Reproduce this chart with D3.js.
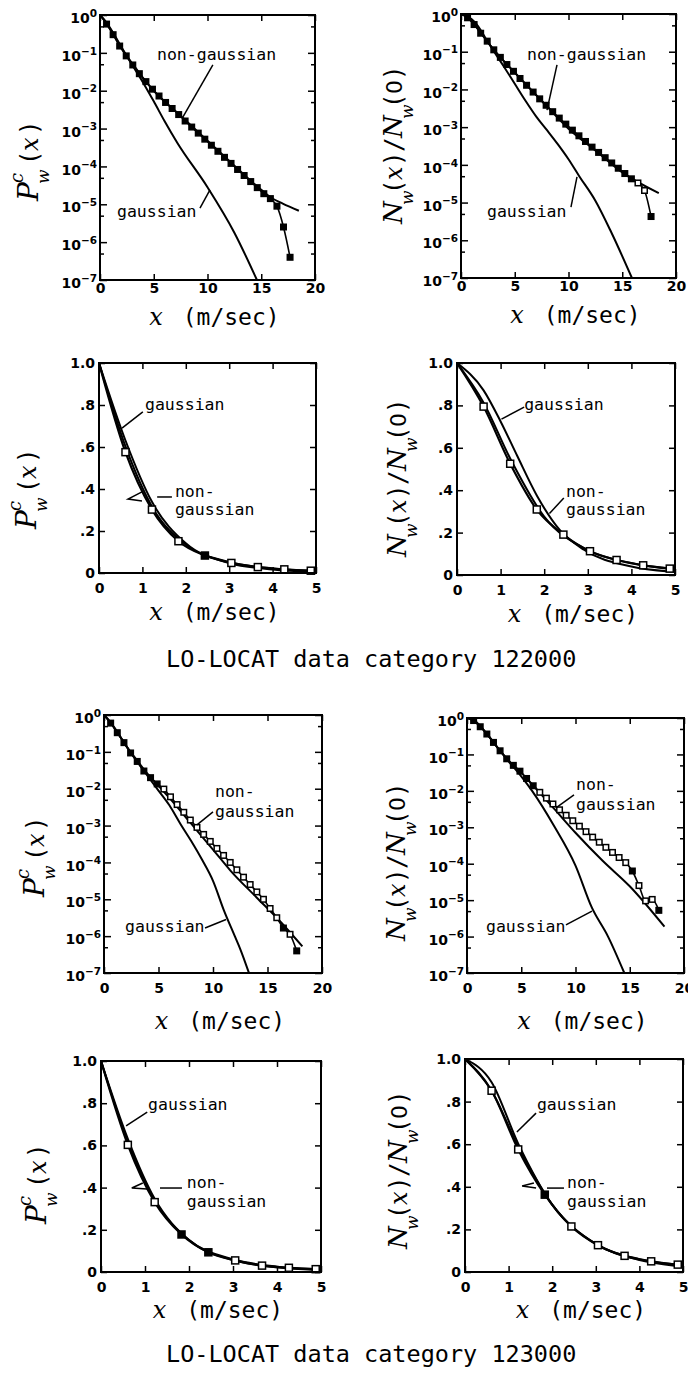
<!DOCTYPE html>
<html>
<head>
<meta charset="utf-8">
<script src="https://cdn.jsdelivr.net/npm/d3@7"></script>
<style>
body { margin: 0; background: #fff; }
svg { display: block; }
.tick text { font-family: "DejaVu Sans"; font-weight: bold; font-size: 14px; fill: #000; }
.tick line { stroke: #000; stroke-width: 1.5px; }
.note { font-family: "DejaVu Sans Mono"; font-size: 16.5px; fill: #000; }
.caption { font-family: "DejaVu Sans Mono"; font-size: 23.5px; fill: #000; }
</style>
</head>
<body>
<svg id="chart" width="688" height="1375"></svg>
<script>
// speeds of the measured points (m/sec), same for every data set
var pointX = [0, 0.61, 1.22, 1.83, 2.44, 3.05, 3.66, 4.27, 4.88, 5.49, 6.10, 6.71, 7.32, 7.92, 8.53,
    9.14, 9.75, 10.36, 10.97, 11.58, 12.19, 12.80, 13.41, 14.02, 14.63, 15.24, 15.85, 16.46, 17.07, 17.68]

// all values below are log10 of the value

// category 122000, P_w^c(x)
var p122Data = [0, -0.24, -0.52, -0.82, -1.08, -1.32, -1.55, -1.76, -1.96, -2.14, -2.31, -2.47, -2.63, -2.80, -2.96,
    -3.12, -3.28, -3.44, -3.60, -3.76, -3.92, -4.08, -4.24, -4.40, -4.56, -4.72, -4.85, -5.05, -5.60, -6.40]
var p122NonX = [0, 0.61, 1.22, 2, 3, 4, 5, 7.5, 10, 12.5, 15, 16, 17, 18.5]
var p122Non = [0, -0.22, -0.50, -0.87, -1.28, -1.66, -2.00, -2.66, -3.32, -3.98, -4.62, -4.84, -4.98, -5.17]
var p122GaussX = [0, 0.61, 1.22, 2, 3, 4, 5, 6, 7.2, 10, 12.5, 14.6]
var p122Gauss = [0, -0.20, -0.47, -0.85, -1.32, -1.78, -2.28, -2.80, -3.38, -4.55, -5.75, -7.0]

// category 122000, N_w(x)/N_w(0)
var n122Data = [0, -0.10, -0.28, -0.51, -0.72, -0.95, -1.15, -1.34, -1.52, -1.71, -1.89, -2.07, -2.25, -2.42, -2.59,
    -2.76, -2.92, -3.08, -3.23, -3.38, -3.53, -3.67, -3.81, -3.95, -4.09, -4.23, -4.37, -4.48, -4.68, -5.37]
var n122NonX = [0, 0.61, 1.22, 2, 3, 4, 5, 7.5, 10, 12.5, 15, 18.4]
var n122Non = [0, -0.09, -0.26, -0.56, -0.93, -1.25, -1.55, -2.30, -3.04, -3.62, -4.20, -4.75]
var n122GaussX = [0, 0.61, 1, 1.38, 1.84, 2.37, 2.9, 4, 5, 6, 7, 8, 9, 10, 11, 12.5, 14, 15.9]
var n122Gauss = [0, -0.06, -0.14, -0.25, -0.43, -0.68, -0.92, -1.40, -1.85, -2.30, -2.72, -3.08, -3.45, -3.85, -4.30, -4.95, -5.80, -7.0]

// category 123000, P_w^c(x)
var p123Data = [0, -0.22, -0.48, -0.75, -1.03, -1.26, -1.52, -1.70, -1.87, -2.01, -2.22, -2.43, -2.64, -2.85, -3.05,
    -3.24, -3.43, -3.62, -3.81, -4.00, -4.20, -4.40, -4.60, -4.80, -5.00, -5.25, -5.50, -5.78, -5.95, -6.40]
var p123NonX = [0, 0.61, 1.22, 2, 3, 4, 5, 6, 8, 10, 11.6, 14, 16, 18.2]
var p123Non = [0, -0.21, -0.47, -0.82, -1.22, -1.60, -1.92, -2.25, -2.95, -3.65, -4.22, -4.95, -5.55, -6.28]
var p123GaussX = [0, 0.61, 1.22, 2, 3, 4, 5, 6, 7, 8, 9, 10, 11, 12, 12.5, 13.3]
var p123Gauss = [0, -0.20, -0.46, -0.82, -1.25, -1.65, -2.05, -2.45, -2.95, -3.42, -3.93, -4.50, -5.30, -6.00, -6.35, -7.0]

// category 123000, N_w(x)/N_w(0)
var n123Data = [0, -0.07, -0.24, -0.44, -0.67, -0.90, -1.12, -1.30, -1.46, -1.66, -1.86, -2.04, -2.20, -2.36, -2.52,
    -2.67, -2.82, -2.97, -3.12, -3.27, -3.41, -3.55, -3.69, -3.83, -3.97, -4.20, -4.60, -5.02, -4.98, -5.28]
var n123NonX = [0, 0.61, 1.22, 2, 3, 4, 5, 6, 7, 8, 10, 12.5, 15, 18.2]
var n123Non = [0, -0.07, -0.23, -0.50, -0.88, -1.22, -1.50, -1.82, -2.15, -2.48, -3.15, -3.92, -4.62, -5.73]
var n123GaussX = [0, 0.61, 1.22, 2, 3, 4, 5, 6, 8, 10, 11.5, 13, 14.5]
var n123Gauss = [0, -0.05, -0.22, -0.50, -0.88, -1.25, -1.60, -2.00, -2.95, -4.05, -5.20, -6.00, -7.0]

// ticks
var xLogTicks = [0, 5, 10, 15, 20]
var xLinTicks = [0, 1, 2, 3, 4, 5]
var yLogExp = [0, -1, -2, -3, -4, -5, -6, -7]
var yLinTicks = [0, 0.2, 0.4, 0.6, 0.8, 1.0]
var yLinTickLabels = ["0", ".2", ".4", ".6", ".8", "1.0"]
var captions = ["LO-LOCAT data category 122000", "LO-LOCAT data category 123000"]

var sets = {
    p122: { data: p122Data, nonX: p122NonX, non: p122Non, gaussX: p122GaussX, gauss: p122Gauss },
    n122: { data: n122Data, nonX: n122NonX, non: n122Non, gaussX: n122GaussX, gauss: n122Gauss },
    p123: { data: p123Data, nonX: p123NonX, non: p123Non, gaussX: p123GaussX, gauss: p123Gauss },
    n123: { data: n123Data, nonX: n123NonX, non: n123Non, gaussX: n123GaussX, gauss: n123Gauss }
}

// layout of the eight frames; note / arrow positions are in data units (log panels: log10)
var panels = [
    { set: "p122", log: true, left: 100, right: 315, top: 15, bottom: 280, pad: 3, xl: 45, label: "P", lx: 38, ly: 157,
        solid: function (k) { return true },
        notes: [["non-gaussian", 5.3, -1.19], ["gaussian", 1.58, -5.34]],
        arrows: [[[10.5, -1.32], [7.72, -2.69]], [[9.3, -5.1], [10.23, -4.62]]] },
    { set: "n122", log: true, left: 461, right: 676, top: 14, bottom: 278, pad: 3, xl: 45, label: "N", lx: 402, ly: 140,
        solid: function (k) { return k < 27 || k > 28 },
        notes: [["non-gaussian", 6.14, -1.22], ["gaussian", 2.42, -5.38]],
        arrows: [[[8.93, -1.35], [8.0, -2.55]], [[10.23, -5.12], [10.79, -4.32]]] },
    { set: "p122", log: false, left: 99, right: 316, top: 363, bottom: 573, pad: 10, xl: 47, label: "P", lx: 36, ly: 485,
        solid: function (k) { return k == 4 },
        notes: [["gaussian", 1.06, 0.776], ["non-", 1.75, 0.362], ["gaussian", 1.75, 0.276]],
        arrows: [[[1.01, 0.767], [0.53, 0.69]], [[1.68, 0.362], [1.34, 0.362]], [[0.99, 0.386], [0.67, 0.352], [0.99, 0.343]]] },
    { set: "n122", log: false, left: 457, right: 675, top: 363, bottom: 575, pad: 10, xl: 47, label: "N", lx: 406, ly: 473,
        solid: function (k) { return false },
        notes: [["gaussian", 1.54, 0.778], ["non-", 2.5, 0.368], ["gaussian", 2.5, 0.283]],
        arrows: [[[1.54, 0.792], [1.02, 0.735]], [[2.45, 0.363], [2.12, 0.29]]] },
    { set: "p123", log: true, left: 104, right: 322, top: 715, bottom: 973, pad: 10, xl: 56, label: "P", lx: 44, ly: 853,
        solid: function (k) { return k <= 8 || k == 27 || k == 29 },
        notes: [["non-", 10.18, -2.22], ["gaussian", 10.18, -2.77], ["gaussian", 1.93, -5.89]],
        arrows: [[[10.0, -2.63], [8.53, -2.98]], [[9.27, -5.78], [11.2, -5.55]]] },
    { set: "n123", log: true, left: 467, right: 684, top: 718, bottom: 973, pad: 10, xl: 56, label: "N", lx: 405, ly: 857,
        solid: function (k) { return k <= 10 || k == 25 || k == 29 },
        notes: [["non-", 10.05, -1.98], ["gaussian", 10.05, -2.53], ["gaussian", 1.75, -5.87]],
        arrows: [[[9.86, -2.11], [8.2, -2.47]], [[9.12, -5.68], [11.52, -5.3]]] },
    { set: "p123", log: false, left: 101, right: 321, top: 1061, bottom: 1272, pad: 10, xl: 46, label: "P", lx: 46, ly: 1180,
        solid: function (k) { return k == 3 || k == 4 },
        notes: [["gaussian", 1.07, 0.768], ["non-", 1.95, 0.398], ["gaussian", 1.95, 0.308]],
        arrows: [[[1.05, 0.758], [0.57, 0.692]], [[1.84, 0.398], [1.34, 0.398]], [[0.95, 0.422], [0.7, 0.398], [1.05, 0.393]]] },
    { set: "n123", log: false, left: 465, right: 683, top: 1059, bottom: 1272, pad: 10, xl: 46, label: "N", lx: 407, ly: 1165,
        solid: function (k) { return k == 3 },
        notes: [["gaussian", 1.65, 0.76], ["non-", 2.34, 0.394], ["gaussian", 2.34, 0.305]],
        arrows: [[[1.63, 0.746], [1.19, 0.657]], [[2.27, 0.394], [1.88, 0.394]], [[1.58, 0.418], [1.31, 0.404], [1.63, 0.394]]] }
]

var serif = "DejaVu Serif", mono = "DejaVu Sans Mono", sans = "DejaVu Sans"
// pieces of the rotated y labels: text, x, y, font, size, italic
var pLabelParts = [["P", -44, 0, serif, 28, 1], ["c", -26, -15, serif, 18, 1], ["w", -27, 11, serif, 17, 1],
    ["(", -8, 0, mono, 24, 0], ["x", 6, 0, serif, 24, 1], [")", 22, 0, mono, 24, 0]]
var nLabelParts = [["N", -84, 0, serif, 26, 1], ["w", -65, 11, serif, 17, 1], ["(", -54, 0, mono, 24, 0],
    ["x", -40, 0, serif, 24, 1], [")", -26, 0, mono, 24, 0], ["/", -12, 0, mono, 24, 0], ["N", 2, 0, serif, 26, 1],
    ["w", 21, 11, serif, 17, 1], ["(", 32, 0, mono, 24, 0], ["0", 46, 0, sans, 22, 0], [")", 60, 0, mono, 24, 0]]

var svg = d3.select("#chart")

function pow10(e) { return Math.pow(10, e) }

function drawPanel(p, idx) {
    var s = sets[p.set]
    var g = svg.append("g")
    var xMax = p.log ? 20 : 5
    var x = d3.scaleLinear().domain([0, xMax]).range([p.left, p.right])
    var y = p.log ? d3.scaleLog().domain([1e-7, 1]).range([p.bottom, p.top])
        : d3.scaleLinear().domain([0, 1]).range([p.bottom, p.top])
    // notes on log panels are given as log10
    var ny = function (v) { return p.log ? y(pow10(v)) : y(v) }

    var clipId = "clip" + idx
    svg.append("clipPath").attr("id", clipId).append("rect")
        .attr("x", p.left).attr("y", p.top).attr("width", p.right - p.left).attr("height", p.bottom - p.top)

    var line = d3.line()
        .x(function (d) { return x(d[0]) })
        .y(function (d) { return y(pow10(d[1])) })
        .curve(d3.curveMonotoneX)

    var lines = g.append("g").attr("clip-path", "url(#" + clipId + ")")
    lines.append("path").datum(d3.zip(s.gaussX, s.gauss))
        .attr("d", line).attr("fill", "none").attr("stroke", "#000").attr("stroke-width", 2)
    lines.append("path").datum(d3.zip(s.nonX, s.non))
        .attr("d", line).attr("fill", "none").attr("stroke", "#000").attr("stroke-width", 2)
    lines.append("path").datum(d3.zip(pointX, s.data))
        .attr("d", line).attr("fill", "none").attr("stroke", "#000").attr("stroke-width", p.log ? 1.6 : 2.2)

    var pts = d3.zip(pointX, s.data).map(function (d, k) { return { x: d[0], v: d[1], k: k } })
        .filter(function (d) { return d.k > 0 && d.x <= xMax })
    var size = p.log ? 5.5 : 7
    g.selectAll(".pt").data(pts).enter().append("rect")
        .attr("x", function (d) { return x(d.x) - size / 2 })
        .attr("y", function (d) { return y(pow10(d.v)) - size / 2 })
        .attr("width", size).attr("height", size)
        .attr("fill", function (d) { return p.solid(d.k) ? "#000" : "#fff" })
        .attr("stroke", "#000").attr("stroke-width", 1.5)

    // axes, ticks pointing inward on all four sides
    var xt = p.log ? xLogTicks : xLinTicks
    var bottom = g.append("g").attr("transform", "translate(0," + p.bottom + ")")
        .call(d3.axisBottom(x).tickValues(xt).tickSizeInner(-6).tickSizeOuter(0).tickPadding(p.pad).tickFormat(d3.format("d")))
    g.append("g").attr("transform", "translate(0," + p.top + ")")
        .call(d3.axisTop(x).tickValues(xt).tickSizeInner(-6).tickSizeOuter(0).tickFormat(""))

    if (p.log) {
        var major = yLogExp.map(pow10)
        var minor = yLogExp.slice(0, 7).map(function (e) { return 5 * pow10(e - 1) })
        var left = g.append("g").attr("transform", "translate(" + p.left + ",0)")
            .call(d3.axisLeft(y).tickValues(major).tickSizeInner(-7).tickSizeOuter(0).tickPadding(3)
                .tickFormat(function () { return "10" }))
        left.selectAll(".tick text").attr("dy", "0.55em").append("tspan")
            .attr("dy", "-0.62em").style("font-size", "10.5px")
            .text(function (d) {
                var e = Math.round(Math.log10(d))
                return e == 0 ? "0" : "\u2212" + (-e)
            })
        g.append("g").attr("transform", "translate(" + p.left + ",0)")
            .call(d3.axisLeft(y).tickValues(minor).tickSizeInner(-4).tickSizeOuter(0).tickFormat(""))
        g.append("g").attr("transform", "translate(" + p.right + ",0)")
            .call(d3.axisRight(y).tickValues(major).tickSizeInner(-7).tickSizeOuter(0).tickFormat(""))
        g.append("g").attr("transform", "translate(" + p.right + ",0)")
            .call(d3.axisRight(y).tickValues(minor).tickSizeInner(-4).tickSizeOuter(0).tickFormat(""))
    } else {
        g.append("g").attr("transform", "translate(" + p.left + ",0)")
            .call(d3.axisLeft(y).tickValues(yLinTicks).tickSizeInner(-6).tickSizeOuter(0).tickPadding(4)
                .tickFormat(function (d, i) { return yLinTickLabels[i] }))
        g.append("g").attr("transform", "translate(" + p.right + ",0)")
            .call(d3.axisRight(y).tickValues(yLinTicks).tickSizeInner(-6).tickSizeOuter(0).tickFormat(""))
    }
    g.selectAll(".domain").remove()

    g.append("rect")
        .attr("x", p.left).attr("y", p.top)
        .attr("width", p.right - p.left).attr("height", p.bottom - p.top)
        .attr("fill", "none").attr("stroke", "#000").attr("stroke-width", 2)

    // labels on the curves
    p.notes.forEach(function (n) {
        g.append("text").attr("class", "note")
            .attr("x", x(n[1])).attr("y", ny(n[2])).text(n[0])
    })
    p.arrows.forEach(function (a) {
        g.append("path")
            .attr("d", d3.line().x(function (d) { return x(d[0]) }).y(function (d) { return ny(d[1]) })(a))
            .attr("fill", "none").attr("stroke", "#000").attr("stroke-width", 1.5)
    })

    // x axis title
    var xt2 = g.append("text")
        .attr("x", (p.left + p.right) / 2 + 7).attr("y", p.bottom + p.xl)
        .attr("text-anchor", "middle")
    xt2.append("tspan").style("font-family", serif).style("font-style", "italic").style("font-size", "24px").text("x")
    xt2.append("tspan").style("font-family", mono).style("font-size", "23px").attr("dx", 6).text("\u00a0(m/sec)")

    // y axis title, rotated
    var yl = g.append("g").attr("transform", "translate(" + p.lx + "," + p.ly + ") rotate(-90)")
    var parts = p.label == "P" ? pLabelParts : nLabelParts
    parts.forEach(function (q) {
        yl.append("text").attr("x", q[1]).attr("y", q[2])
            .style("font-family", q[3]).style("font-size", q[4] + "px")
            .style("font-style", q[5] ? "italic" : "normal")
            .text(q[0])
    })
}

panels.forEach(drawPanel)

svg.selectAll(".caption").data(captions).enter().append("text")
    .attr("class", "caption")
    .attr("x", 166)
    .attr("y", function (d, i) { return i == 0 ? 667 : 1362 })
    .text(function (d) { return d })
</script>
</body>
</html>
